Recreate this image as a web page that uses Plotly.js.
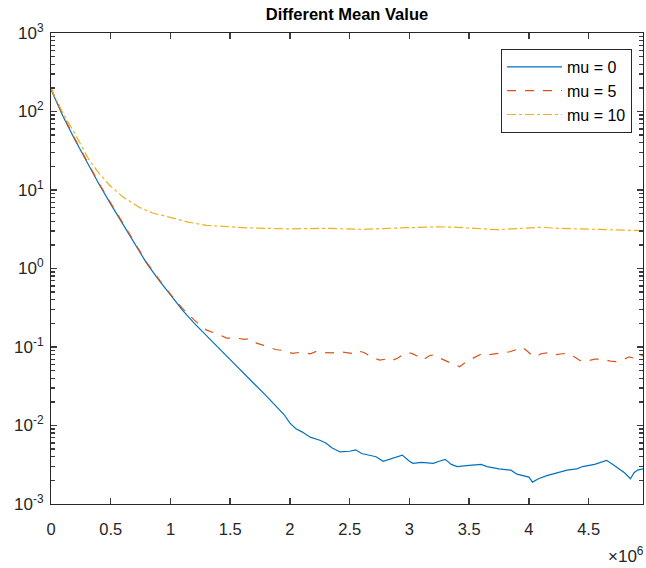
<!DOCTYPE html>
<html>
<head>
<meta charset="utf-8">
<script src="https://cdn.plot.ly/plotly-3.0.1.min.js"></script>
<style>html,body{margin:0;padding:0;background:#fff;}#chart{width:646px;height:568px;}</style>
</head>
<body>
<div id="chart"></div>
<script>
// x values in units of 10^6
const xMu0 = [0,0.1,0.2,0.3,0.4,0.5,0.6,0.7,0.8,0.9,1.0,1.1,1.2,1.3,1.4,1.5,1.6,1.7,1.8,1.9,1.95,2.0,2.05,2.1,2.17,2.25,2.3,2.35,2.42,2.5,2.55,2.6,2.67,2.72,2.78,2.85,2.94,3.0,3.03,3.1,3.2,3.25,3.3,3.35,3.4,3.5,3.6,3.65,3.75,3.85,3.9,3.95,4.0,4.03,4.08,4.15,4.2,4.25,4.32,4.4,4.45,4.55,4.62,4.65,4.7,4.75,4.8,4.85,4.88,4.91,4.955];
const yMu0 = [190,87,43.6,22.9,12.0,6.6,3.7,2.14,1.17,0.72,0.457,0.295,0.20,0.138,0.098,0.069,0.048,0.034,0.024,0.0166,0.0138,0.0107,0.0091,0.0083,0.0071,0.0065,0.0060,0.0052,0.0046,0.0047,0.0049,0.0044,0.0042,0.0040,0.0035,0.0038,0.0042,0.0035,0.0033,0.0034,0.0033,0.0035,0.0037,0.0032,0.0030,0.0031,0.0032,0.0030,0.0028,0.0027,0.0024,0.0023,0.0022,0.0019,0.0021,0.0023,0.0024,0.0025,0.0027,0.0028,0.0030,0.0032,0.0035,0.0036,0.0032,0.0028,0.0025,0.0021,0.0025,0.0027,0.0028];

const xMu5 = [0,0.1,0.2,0.3,0.4,0.5,0.6,0.7,0.8,0.9,1.0,1.1,1.15,1.2,1.25,1.3,1.4,1.47,1.55,1.62,1.66,1.72,1.78,1.83,1.88,1.95,2.02,2.1,2.17,2.22,2.27,2.35,2.42,2.47,2.52,2.56,2.62,2.68,2.75,2.8,2.84,2.9,2.97,3.02,3.07,3.11,3.17,3.2,3.27,3.34,3.4,3.42,3.47,3.5,3.56,3.61,3.67,3.73,3.8,3.84,3.9,3.94,3.98,4.02,4.06,4.1,4.17,4.23,4.28,4.32,4.38,4.43,4.48,4.55,4.62,4.68,4.73,4.78,4.84,4.88,4.91,4.955];
const yMu5 = [200,90,45,23.5,12.3,6.8,3.8,2.2,1.2,0.74,0.47,0.31,0.26,0.22,0.19,0.165,0.145,0.13,0.13,0.125,0.128,0.112,0.105,0.098,0.093,0.09,0.083,0.086,0.082,0.088,0.085,0.084,0.087,0.085,0.083,0.09,0.085,0.075,0.068,0.07,0.066,0.072,0.085,0.083,0.076,0.068,0.078,0.079,0.07,0.063,0.058,0.056,0.064,0.068,0.075,0.083,0.08,0.082,0.085,0.087,0.093,0.10,0.09,0.08,0.075,0.082,0.085,0.08,0.082,0.083,0.075,0.067,0.066,0.07,0.07,0.066,0.065,0.068,0.075,0.072,0.083,0.077];

const xMu10 = [0,0.1,0.2,0.32,0.4,0.49,0.6,0.74,0.85,1.02,1.15,1.3,1.45,1.63,1.8,1.97,2.15,2.3,2.45,2.6,2.75,2.9,3.05,3.23,3.4,3.55,3.73,3.9,4.09,4.25,4.45,4.65,4.8,4.955];
const yMu10 = [195,95,52,24,16.5,11.5,8.2,6.0,5.1,4.4,3.9,3.55,3.4,3.3,3.25,3.2,3.22,3.25,3.2,3.15,3.22,3.28,3.3,3.4,3.35,3.25,3.12,3.22,3.35,3.25,3.18,3.15,3.1,3.03];

const seriesNames = ['mu = 0', 'mu = 5', 'mu = 10'];
const xTickVals = [0,0.5,1,1.5,2,2.5,3,3.5,4,4.5];
const xTickText = ['0','0.5','1','1.5','2','2.5','3','3.5','4','4.5'];
const yExponents = [-3,-2,-1,0,1,2,3];

const yTickVals = yExponents.map(e => Math.pow(10, e));
const yTickText = yExponents.map(e => '10<sup>' + e + '</sup>');
const yMinorVals = [];
yExponents.slice(0, -1).forEach(e => { for (let m = 2; m <= 9; m++) yMinorVals.push(m * Math.pow(10, e)); });

const axisColor = '#262626';
const tickColor = '#3a3a3a';
const fam = 'Liberation Sans, Arial, sans-serif';
const xRange = [0, 4.955];
const yRange = [-3, 3];
const clear = 'rgba(0,0,0,0)';

const traces = [
  {x: xMu0, y: yMu0, name: seriesNames[0], mode: 'lines', line: {color: '#0072BD', width: 1.2, dash: 'solid'}},
  {x: xMu5, y: yMu5, name: seriesNames[1], mode: 'lines', line: {color: '#D95319', width: 1.2, dash: 'dash'}},
  {x: xMu10, y: yMu10, name: seriesNames[2], mode: 'lines', line: {color: '#EDB120', width: 1.2, dash: 'dashdot'}},
  // invisible carriers for the tick-only overlay axes
  {x: [xTickVals[1]], y: [yTickVals[3]], xaxis: 'x2', yaxis: 'y2', mode: 'markers', marker: {opacity: 0, size: 1}, showlegend: false, hoverinfo: 'skip'},
  {x: [xTickVals[1]], y: [yTickVals[3]], xaxis: 'x', yaxis: 'y3', mode: 'markers', marker: {opacity: 0, size: 1}, showlegend: false, hoverinfo: 'skip'}
];

const layout = {
  width: 646, height: 568,
  margin: {l: 51, r: 3, t: 33, b: 64},
  font: {family: fam, size: 16, color: axisColor},
  showlegend: true,
  title: {text: '<b>Different Mean Value</b>', font: {family: fam, size: 16.5, color: '#000'},
          x: 347/646, xanchor: 'center', y: 1 - 14/568, yanchor: 'middle'},
  xaxis: {
    range: xRange, tickmode: 'array', tickvals: xTickVals, ticktext: xTickText,
    ticks: 'outside', ticklen: 10, tickcolor: clear,
    showline: true, linecolor: axisColor, linewidth: 1, mirror: true,
    gridcolor: clear, zerolinecolor: clear,
    tickfont: {family: fam, size: 16.5, color: axisColor}
  },
  yaxis: {
    type: 'log', range: yRange, tickmode: 'array', tickvals: yTickVals, ticktext: yTickText,
    ticks: 'outside', ticklen: 3, tickcolor: clear,
    showline: true, linecolor: axisColor, linewidth: 1, mirror: true,
    gridcolor: clear,
    tickfont: {family: fam, size: 17, color: axisColor}
  },
  xaxis2: {
    range: xRange, overlaying: 'x', anchor: 'y2', side: 'bottom', tickvals: xTickVals,
    ticks: 'inside', ticklen: 6, tickwidth: 1.5, tickcolor: tickColor, showticklabels: false,
    showline: true, linecolor: axisColor, mirror: 'ticks', gridcolor: clear, zerolinecolor: clear
  },
  yaxis2: {
    type: 'log', range: yRange, overlaying: 'y', anchor: 'x2', side: 'left', dtick: 1,
    ticks: 'inside', ticklen: 6, tickwidth: 1.5, tickcolor: tickColor, showticklabels: false,
    showline: true, linecolor: axisColor, mirror: 'ticks', gridcolor: clear
  },
  yaxis3: {
    type: 'log', range: yRange, overlaying: 'y', anchor: 'x', side: 'left', tickmode: 'array', tickvals: yMinorVals,
    ticks: 'inside', ticklen: 4, tickwidth: 1.3, tickcolor: tickColor, showticklabels: false,
    showline: true, linecolor: axisColor, mirror: 'ticks', gridcolor: clear
  },
  legend: {
    x: (501-51)/592, xanchor: 'left', y: (504-49)/471, yanchor: 'top',
    bgcolor: '#fff', bordercolor: axisColor, borderwidth: 1,
    font: {family: fam, size: 16, color: '#000'},
    itemwidth: 55
  },
  annotations: [{
    text: '×10<sup>6</sup>', xref: 'paper', yref: 'paper', x: 1, xshift: 3, xanchor: 'right',
    y: -51/471, yanchor: 'middle', showarrow: false,
    font: {family: fam, size: 17, color: axisColor}
  }]
};

Plotly.newPlot('chart', traces, layout, {staticPlot: true});
</script>
</body>
</html>
